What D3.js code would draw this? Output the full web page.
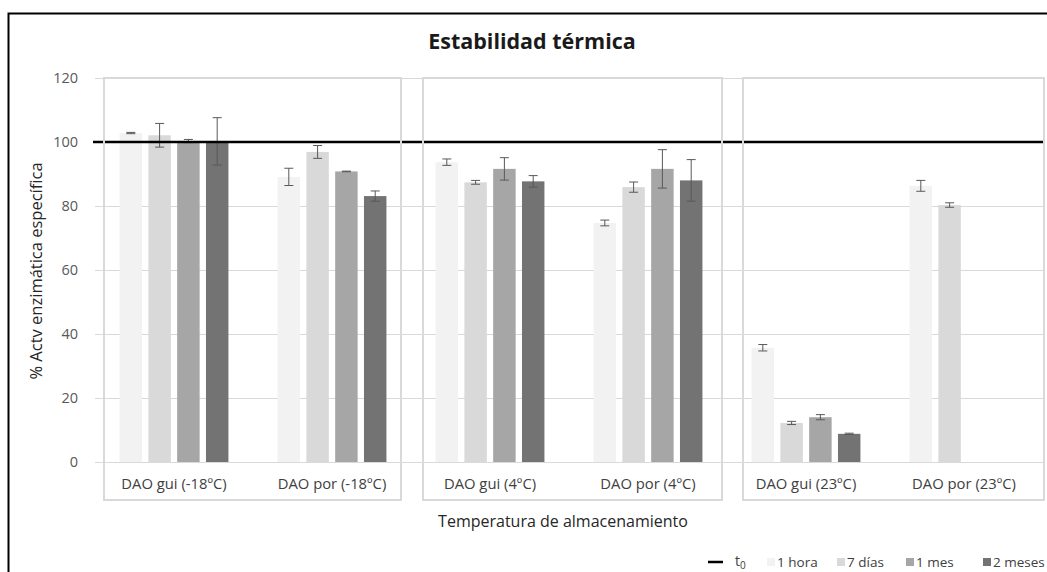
<!DOCTYPE html>
<html>
<head>
<meta charset="utf-8">
<script src="https://cdn.jsdelivr.net/npm/d3@7"></script>
<style>
  body { margin: 0; background: #fff; }
  svg { display: block; font-family: "Open Sans", sans-serif; }
</style>
</head>
<body>
<div id="chart"></div>
<script>
// data
var categories = ["DAO gui (-18ºC)", "DAO por (-18ºC)", "DAO gui (4ºC)", "DAO por (4ºC)", "DAO gui (23ºC)", "DAO por (23ºC)"];
var seriesNames = ["1 hora", "7 días", "1 mes", "2 meses"];
var hora1 = [102.8, 89.1, 93.7, 74.7, 35.7, 86.3];
var hora1Err = [0.2, 2.7, 1.0, 0.9, 1.0, 1.7];
var dias7 = [102.1, 96.9, 87.4, 85.9, 12.2, 80.3];
var dias7Err = [3.7, 2.0, 0.6, 1.6, 0.5, 0.7];
var mes1 = [100.3, 90.8, 91.6, 91.6, 14.0, null];
var mes1Err = [0.5, 0.1, 3.5, 6.0, 0.8, null];
var mes2 = [100.2, 83.1, 87.7, 88.0, 8.8, null];
var mes2Err = [7.4, 1.6, 1.8, 6.5, 0.2, null];
var t0Value = 100;
var yTicks = [0, 20, 40, 60, 80, 100, 120];
var panelGroups = [[0, 1], [2, 3], [4, 5]];

var colors = ["#f2f2f2", "#d9d9d9", "#a6a6a6", "#737373"];
var values = [hora1, dias7, mes1, mes2];
var errors = [hora1Err, dias7Err, mes1Err, mes2Err];

var svgWidth = 1047;
var svgHeight = 572;
var plot = { left: 95, right: 1043, top: 78, bottom: 462 };

var svg = d3.select("#chart")
    .append("svg")
    .attr("width", svgWidth)
    .attr("height", svgHeight);

// outer frame (runs off the right and bottom edge)
svg.append("rect")
    .attr("x", 8.5).attr("y", 13.5)
    .attr("width", 1200).attr("height", 700)
    .attr("fill", "none")
    .attr("stroke", "#000")
    .attr("stroke-width", 2);

var x0 = d3.scaleBand()
    .domain(categories)
    .range([plot.left, plot.right])
    .paddingInner(0.311)
    .paddingOuter(0.1555);

var x1 = d3.scaleBand()
    .domain(seriesNames)
    .range([0, x0.bandwidth()])
    .paddingInner(0.22);

var y = d3.scaleLinear()
    .domain([0, 120])
    .range([plot.bottom, plot.top]);

// gridlines + tick labels
var yAxis = svg.append("g")
    .attr("transform", `translate(${plot.left},0)`)
    .call(d3.axisLeft(y).tickValues(yTicks).tickSize(-(plot.right + 1 - plot.left)).tickPadding(17));
yAxis.select(".domain").remove();
yAxis.selectAll(".tick line").attr("stroke", "#d9d9d9").attr("stroke-width", 1);
yAxis.selectAll(".tick text")
    .attr("fill", "#595959")
    .style("font-size", "14.5px")
    .style("font-family", "'Open Sans', sans-serif");

// bars
var rows = [];
categories.forEach(function (c, i) {
    seriesNames.forEach(function (s, j) {
        if (values[j][i] != null) {
            rows.push({ cat: c, s: s, j: j, v: values[j][i], e: errors[j][i] });
        }
    });
});

svg.append("g").selectAll("rect")
    .data(rows)
    .enter().append("rect")
    .attr("x", d => x0(d.cat) + x1(d.s))
    .attr("y", d => y(d.v))
    .attr("width", x1.bandwidth())
    .attr("height", d => y(0) - y(d.v))
    .attr("fill", d => colors[d.j]);

// error bars
var err = svg.append("g").attr("stroke", "#595959").attr("stroke-width", 1);
rows.forEach(function (d) {
    var cx = x0(d.cat) + x1(d.s) + x1.bandwidth() / 2;
    err.append("line").attr("x1", cx).attr("x2", cx).attr("y1", y(d.v - d.e)).attr("y2", y(d.v + d.e));
    err.append("line").attr("x1", cx - 4.5).attr("x2", cx + 4.5).attr("y1", y(d.v - d.e)).attr("y2", y(d.v - d.e));
    err.append("line").attr("x1", cx - 4.5).attr("x2", cx + 4.5).attr("y1", y(d.v + d.e)).attr("y2", y(d.v + d.e));
});

// t0 reference line
svg.append("line")
    .attr("x1", plot.left - 2).attr("x2", plot.right + 1)
    .attr("y1", y(t0Value)).attr("y2", y(t0Value))
    .attr("stroke", "#000")
    .attr("stroke-width", 2.5);

// panel boxes around each storage temperature
var step = x0.step();
var edge = i => plot.left + i * step;
var insets = [[9, -10], [12, -5], [16, 1]];
panelGroups.forEach(function (g, k) {
    var left = edge(g[0]) + insets[k][0];
    var right = edge(g[g.length - 1] + 1) + insets[k][1];
    svg.append("rect")
        .attr("x", left).attr("y", plot.top)
        .attr("width", right - left).attr("height", 500 - plot.top)
        .attr("fill", "none")
        .attr("stroke", "#d9d9d9")
        .attr("stroke-width", 2);
});

// category labels
svg.append("g").selectAll("text")
    .data(categories)
    .enter().append("text")
    .attr("x", d => x0(d) + x0.bandwidth() / 2)
    .attr("y", 484)
    .attr("dy", "0.35em")
    .attr("text-anchor", "middle")
    .attr("fill", "#404040")
    .style("font-size", "14.8px")
    .text(d => d);

// titles
svg.append("text")
    .attr("x", 532).attr("y", 41).attr("dy", "0.35em")
    .attr("text-anchor", "middle")
    .attr("fill", "#1a1a1a")
    .style("font-size", "21.5px")
    .style("font-weight", "bold")
    .text("Estabilidad térmica");

svg.append("text")
    .attr("x", 563).attr("y", 521).attr("dy", "0.35em")
    .attr("text-anchor", "middle")
    .attr("fill", "#262626")
    .style("font-size", "16px")
    .text("Temperatura de almacenamiento");

svg.append("text")
    .attr("transform", `translate(36,${271}) rotate(-90)`)
    .attr("dy", "0.35em")
    .attr("text-anchor", "middle")
    .attr("fill", "#262626")
    .style("font-size", "16.5px")
    .text("% Actv enzimática específica");

// legend
var legend = svg.append("g").attr("transform", "translate(0,562)");
legend.append("line")
    .attr("x1", 708).attr("x2", 723)
    .attr("stroke", "#000").attr("stroke-width", 2.5);
var t0Text = legend.append("text")
    .attr("x", 735).attr("dy", "0.3em")
    .attr("fill", "#404040")
    .style("font-size", "14px");
t0Text.append("tspan").text("t");
t0Text.append("tspan").attr("dy", "3").style("font-size", "10px").text("0");
var legendX = [767, 837, 906, 983];
seriesNames.forEach(function (s, j) {
    legend.append("rect")
        .attr("x", legendX[j]).attr("y", -4)
        .attr("width", 8).attr("height", 8)
        .attr("fill", colors[j]);
    legend.append("text")
        .attr("x", legendX[j] + 10).attr("dy", "0.35em")
        .attr("fill", "#404040")
        .style("font-size", "13.5px")
        .text(s);
});
</script>
</body>
</html>
